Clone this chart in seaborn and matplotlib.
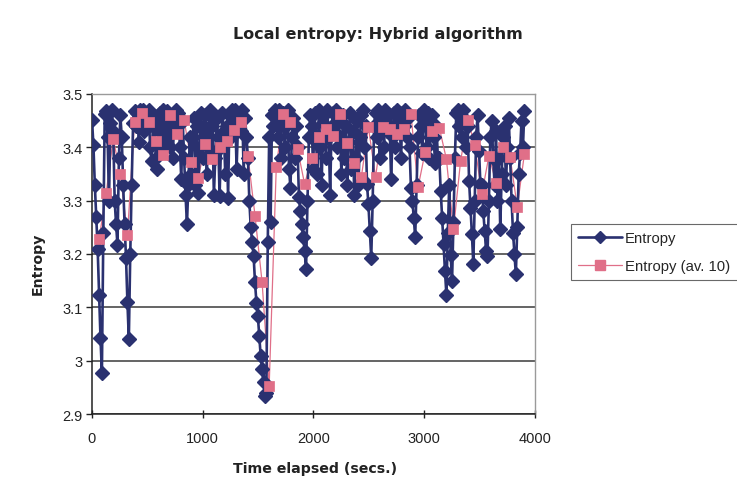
import numpy as np
import pandas as pd
import matplotlib
matplotlib.use("Agg")
import matplotlib.pyplot as plt
import seaborn as sns
from matplotlib.ticker import FuncFormatter
from matplotlib.lines import Line2D

# Local entropy of the hybrid algorithm, one sample every 12.8 s
SAMPLE_STEP = 12.8
entropy = [
    3.452, 3.405, 3.330, 3.270, 3.210,  3.124, 3.043, 2.977, 3.240, 3.462,
    3.468, 3.420, 3.300, 3.445, 3.470,  3.430, 3.300, 3.256, 3.216, 3.380,
    3.460, 3.420, 3.330, 3.256, 3.193,  3.110, 3.040, 3.200, 3.330, 3.445,
    3.468, 3.440, 3.465, 3.410, 3.470,  3.455, 3.470, 3.430, 3.462, 3.440,
    3.470, 3.400, 3.375, 3.440, 3.455,  3.380, 3.360, 3.430, 3.465, 3.400,
    3.470, 3.450, 3.420, 3.468, 3.440,  3.400, 3.460, 3.380, 3.455, 3.470,
    3.440, 3.465, 3.400, 3.340, 3.450,  3.380, 3.310, 3.256, 3.330, 3.420,
    3.350, 3.420, 3.455, 3.330, 3.440,  3.315, 3.400, 3.465, 3.380, 3.440,
    3.460, 3.350, 3.420, 3.470, 3.395,  3.440, 3.310, 3.380, 3.455, 3.420,
    3.309, 3.400, 3.465, 3.430, 3.350,  3.440, 3.305, 3.460, 3.420, 3.470,
    3.450, 3.470, 3.360, 3.440, 3.465,  3.430, 3.470, 3.350, 3.455, 3.420,
    3.380, 3.300, 3.250, 3.222, 3.197,  3.147, 3.109, 3.084, 3.047, 3.009,
    2.984, 2.960, 2.934, 2.940, 3.222,  3.420, 3.260, 3.460, 3.440, 3.470,
    3.460, 3.420, 3.470, 3.380, 3.450,  3.465, 3.400, 3.440, 3.470, 3.360,
    3.324, 3.420, 3.455, 3.380, 3.440,  3.400, 3.306, 3.281, 3.256, 3.231,
    3.206, 3.171, 3.300, 3.420, 3.460,  3.440, 3.360, 3.465, 3.420, 3.350,
    3.470, 3.400, 3.330, 3.445, 3.460,  3.380, 3.470, 3.420, 3.310, 3.440,
    3.465, 3.440, 3.470, 3.400, 3.450,  3.420, 3.350, 3.460, 3.380, 3.440,
    3.330, 3.410, 3.465, 3.360, 3.430,  3.310, 3.380, 3.450, 3.330, 3.420,
    3.460, 3.470, 3.400, 3.440, 3.331,  3.293, 3.243, 3.193, 3.300, 3.440,
    3.465, 3.420, 3.470, 3.380, 3.440,  3.455, 3.400, 3.470, 3.430, 3.460,
    3.440, 3.340, 3.420, 3.465, 3.400,  3.470, 3.430, 3.450, 3.380, 3.465,
    3.440, 3.470, 3.420, 3.455, 3.400,  3.324, 3.300, 3.268, 3.231, 3.330,
    3.420, 3.460, 3.440, 3.390, 3.470,  3.450, 3.400, 3.465, 3.380, 3.430,
    3.460, 3.420, 3.370, 3.440, 3.380,  3.380, 3.318, 3.268, 3.218, 3.168,
    3.124, 3.240, 3.330, 3.199, 3.149,  3.260, 3.380, 3.465, 3.470, 3.440,
    3.460, 3.420, 3.470, 3.450, 3.400,  3.440, 3.337, 3.287, 3.237, 3.181,
    3.300, 3.420, 3.460, 3.393, 3.331,  3.330, 3.281, 3.243, 3.206, 3.197,
    3.300, 3.420, 3.450, 3.380, 3.330,  3.430, 3.300, 3.380, 3.247, 3.350,
    3.420, 3.440, 3.330, 3.400, 3.455,  3.380, 3.300, 3.240, 3.200, 3.162,
    3.250, 3.350, 3.390, 3.450, 3.400,
    3.469,
]

# Averaged entropy, one value every 64 s
AVG_STEP = 64.0
entropy_av10 = [
    3.228, 3.314, 3.416, 3.350, 3.236, 3.447, 3.464, 3.447, 3.412, 3.386,
    3.461, 3.425, 3.451, 3.373, 3.343, 3.406, 3.378, 3.401, 3.412, 3.433,
    3.447, 3.384, 3.272, 3.147, 2.953, 3.363, 3.462, 3.447, 3.397, 3.331,
    3.380, 3.419, 3.434, 3.422, 3.462, 3.408, 3.370, 3.344, 3.438, 3.344,
    3.438, 3.434, 3.425, 3.434, 3.462, 3.325, 3.391, 3.430, 3.437, 3.378,
    3.246, 3.374, 3.452, 3.405, 3.312, 3.384, 3.334, 3.400, 3.381, 3.288,
    3.387,
]

x_ticks = [0, 1000, 2000, 3000, 4000]
y_ticks = [2.9, 3.0, 3.1, 3.2, 3.3, 3.4, 3.5]

series_labels = ["Entropy", "Entropy (av. 10)"]
title = "Local entropy: Hybrid algorithm"
x_label = "Time elapsed (secs.)"
y_label = "Entropy"

raw = pd.DataFrame({
    "time": np.arange(len(entropy)) * SAMPLE_STEP,
    "entropy": entropy,
})
avg = pd.DataFrame({
    "time": (np.arange(len(entropy_av10)) + 1) * AVG_STEP,
    "entropy": entropy_av10,
})

sns.set_theme(style="white")
plt.rcParams["font.family"] = ["Liberation Sans", "DejaVu Sans"]

NAVY = "#2a3170"
PINK = "#e06f88"
TEXT = "#222222"

fig = plt.figure(figsize=(7.37, 5.02), dpi=100)
fig.patch.set_facecolor("white")
ax = fig.add_axes([0.1248, 0.1733, 0.6011, 0.6375])

# averaged series: connecting line sits under the raw series, squares on top
sns.lineplot(data=avg, x="time", y="entropy", ax=ax, sort=False,
             estimator=None, color=PINK, linewidth=0.9, zorder=2,
             legend=False)
sns.lineplot(data=raw, x="time", y="entropy", ax=ax, sort=False,
             estimator=None, color=NAVY, linewidth=1.9, marker="D",
             markersize=7.2, markeredgecolor=NAVY, markeredgewidth=1.0,
             zorder=3, legend=False)
sns.scatterplot(data=avg, x="time", y="entropy", ax=ax, color=PINK,
                marker="s", s=48, edgecolor=PINK, linewidth=0.5, zorder=4,
                legend=False)

ax.set_xlim(0, 4000)
ax.set_ylim(2.9, 3.5)
ax.set_xticks(x_ticks)
ax.set_yticks(y_ticks)
ax.yaxis.set_major_formatter(FuncFormatter(lambda v, _: f"{round(v, 1):g}"))
ax.grid(axis="y", color="#3a3a3a", linewidth=1.1, zorder=0)
ax.grid(axis="x", visible=False)
ax.set_axisbelow(True)

for side in ("left", "bottom"):
    ax.spines[side].set_color(TEXT)
    ax.spines[side].set_linewidth(1.1)
for side in ("top", "right"):
    ax.spines[side].set_color("#9a9a9a")
    ax.spines[side].set_linewidth(1.0)

ax.tick_params(axis="y", direction="out", length=4, width=1, color=TEXT,
               labelsize=10.5, labelcolor=TEXT, pad=3, left=True)
ax.tick_params(axis="x", direction="inout", length=6, width=1, color=TEXT,
               labelsize=10.5, labelcolor=TEXT, pad=9, bottom=True)

ax.set_xlabel("")
ax.set_ylabel("")
bold_font = ["DejaVu Sans"]
fig.text(378 / 737, 1 - 35 / 502, title, ha="center", va="center",
         fontsize=11.5, fontweight="bold", color=TEXT, family=bold_font)
fig.text(315 / 737, 1 - 469 / 502, x_label, ha="center", va="center",
         fontsize=10.2, fontweight="bold", color=TEXT, family=bold_font)
fig.text(38 / 737, 1 - 264 / 502, y_label, ha="center", va="center",
         rotation=90, fontsize=10.2, fontweight="bold", color=TEXT,
         family=bold_font)

# legend entries drawn with the same line and marker styles
handles = [
    Line2D([], [], color=NAVY, linewidth=1.9, marker="D", markersize=6.5,
           markeredgecolor=NAVY),
    Line2D([], [], color=PINK, linewidth=0.9, marker="s", markersize=6.5,
           markeredgecolor=PINK),
]
leg = fig.legend(handles, series_labels, loc="upper left",
                 bbox_to_anchor=(571 / 737, 1 - 225 / 502),
                 frameon=True, fancybox=False, fontsize=10.7,
                 handlelength=2.9, handletextpad=0.25, borderpad=0.5,
                 labelspacing=0.9, borderaxespad=0.0)
leg.get_frame().set_edgecolor("#444444")
leg.get_frame().set_linewidth(0.8)

fig.savefig("out.png", dpi=100, facecolor="white")
